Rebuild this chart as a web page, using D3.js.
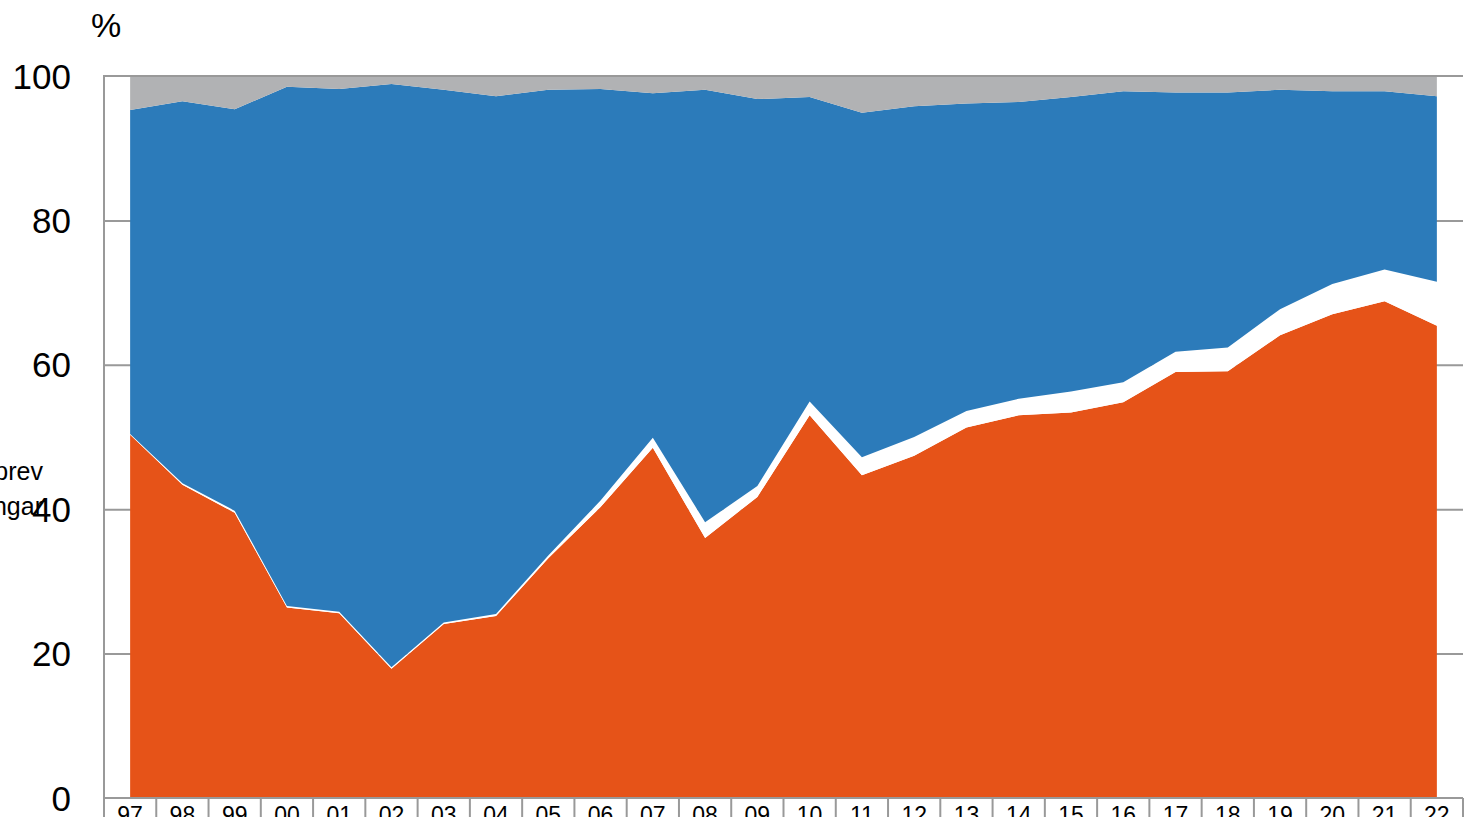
<!DOCTYPE html>
<html>
<head>
<meta charset="utf-8">
<script src="https://d3js.org/d3.v7.min.js"></script>
<style>
  body { margin: 0; background: #fff; overflow: hidden; }
  svg { display: block; font-family: "Liberation Sans", Arial, sans-serif; }
</style>
</head>
<body>
<svg width="1468" height="817"></svg>
<script>
// Data
const years = ['97','98','99','00','01','02','03','04','05','06','07','08','09','10','11','12','13','14','15','16','17','18','19','20','21','22'];
const orange = [50.3,43.4,39.5,26.4,25.6,17.9,24.1,25.2,33.2,40.3,48.5,36.0,41.7,53.0,44.7,47.4,51.3,53.0,53.4,54.8,59.0,59.1,64.1,67.0,68.8,65.4];
const white = [0.1,0.2,0.3,0.2,0.2,0.2,0.2,0.3,0.4,0.9,1.4,2.2,1.5,1.9,2.5,2.6,2.3,2.3,2.9,2.8,2.8,3.3,3.6,4.2,4.4,6.1];
const blue = [44.9,52.9,55.6,71.9,72.4,80.8,73.8,71.7,64.5,57.0,47.7,59.9,53.6,42.2,47.7,45.8,42.6,41.1,40.8,40.3,35.9,35.3,30.4,26.7,24.7,25.7];
const gray = [4.7,3.5,4.6,1.5,1.8,1.1,1.9,2.8,1.9,1.8,2.4,1.9,3.2,2.9,5.1,4.2,3.8,3.6,2.9,2.1,2.3,2.3,1.9,2.1,2.1,2.8];
const yTicks = [0, 20, 40, 60, 80, 100];
const legendLabels = ['prev', 'ngar'];

const keys = ['orange', 'white', 'blue', 'gray'];
const colors = { orange: '#e65318', white: '#ffffff', blue: '#2c7bba', gray: '#b1b2b4' };

const table = years.map((yr, i) => ({
  year: yr, orange: orange[i], white: white[i], blue: blue[i], gray: gray[i]
}));

const svg = d3.select('svg');

const plotLeft = 104, plotRight = 1463, plotTop = 76, plotBottom = 798;

const x = d3.scaleBand()
  .domain(years)
  .range([plotLeft, plotRight]);

const y = d3.scaleLinear()
  .domain([0, 100])
  .range([plotBottom, plotTop]);

// grid lines behind the areas
svg.append('g')
  .attr('transform', `translate(${plotLeft},0)`)
  .call(d3.axisRight(y).tickValues(yTicks.filter(t => t > 0 && t < 100)).tickSize(plotRight - plotLeft).tickFormat(''))
  .call(g => g.select('.domain').remove())
  .call(g => g.selectAll('line').attr('stroke', '#999').attr('stroke-width', 2));

// stacked areas
const series = d3.stack().keys(keys)(table);

const area = d3.area()
  .x(d => x(d.data.year) + x.bandwidth() / 2)
  .y0(d => y(d[0]))
  .y1(d => y(d[1]));

svg.append('g')
  .selectAll('path')
  .data(series)
  .enter()
  .append('path')
    .attr('fill', d => colors[d.key])
    .attr('d', area);

// top line at 100
svg.append('line')
  .attr('x1', plotLeft).attr('x2', plotRight)
  .attr('y1', y(100)).attr('y2', y(100))
  .attr('stroke', '#999').attr('stroke-width', 2);

// left axis line
svg.append('line')
  .attr('x1', plotLeft).attr('x2', plotLeft)
  .attr('y1', y(100) - 1).attr('y2', plotBottom + 1)
  .attr('stroke', '#999').attr('stroke-width', 2);

// y tick labels
svg.append('g')
  .selectAll('text')
  .data(yTicks)
  .enter()
  .append('text')
    .attr('x', 71)
    .attr('y', d => y(d))
    .attr('dy', '0.36em')
    .attr('text-anchor', 'end')
    .attr('font-size', 35)
    .attr('fill', '#000')
    .text(d => d);

svg.append('text')
  .attr('x', 106)
  .attr('y', 37)
  .attr('text-anchor', 'middle')
  .attr('font-size', 34)
  .text('%');

// x axis: category cells
const xAxis = svg.append('g');
xAxis.append('line')
  .attr('x1', plotLeft).attr('x2', plotRight)
  .attr('y1', plotBottom).attr('y2', plotBottom)
  .attr('stroke', '#999').attr('stroke-width', 2);

xAxis.selectAll('.sep')
  .data(years.concat(['end']))
  .enter()
  .append('line')
    .attr('class', 'sep')
    .attr('x1', (d, i) => i < years.length ? x(d) : plotRight)
    .attr('x2', (d, i) => i < years.length ? x(d) : plotRight)
    .attr('y1', plotBottom)
    .attr('y2', plotBottom + 40)
    .attr('stroke', '#999')
    .attr('stroke-width', 2);

xAxis.selectAll('.lab')
  .data(years)
  .enter()
  .append('text')
    .attr('class', 'lab')
    .attr('x', d => x(d) + x.bandwidth() / 2)
    .attr('y', 823)
    .attr('text-anchor', 'middle')
    .attr('font-size', 23)
    .text(d => d);

// legend text cut at the left edge
svg.append('g')
  .selectAll('text')
  .data(legendLabels)
  .enter()
  .append('text')
    .attr('x', 43)
    .attr('y', (d, i) => 480 + i * 35)
    .attr('text-anchor', 'end')
    .attr('font-size', 25)
    .text(d => d);
</script>
</body>
</html>
